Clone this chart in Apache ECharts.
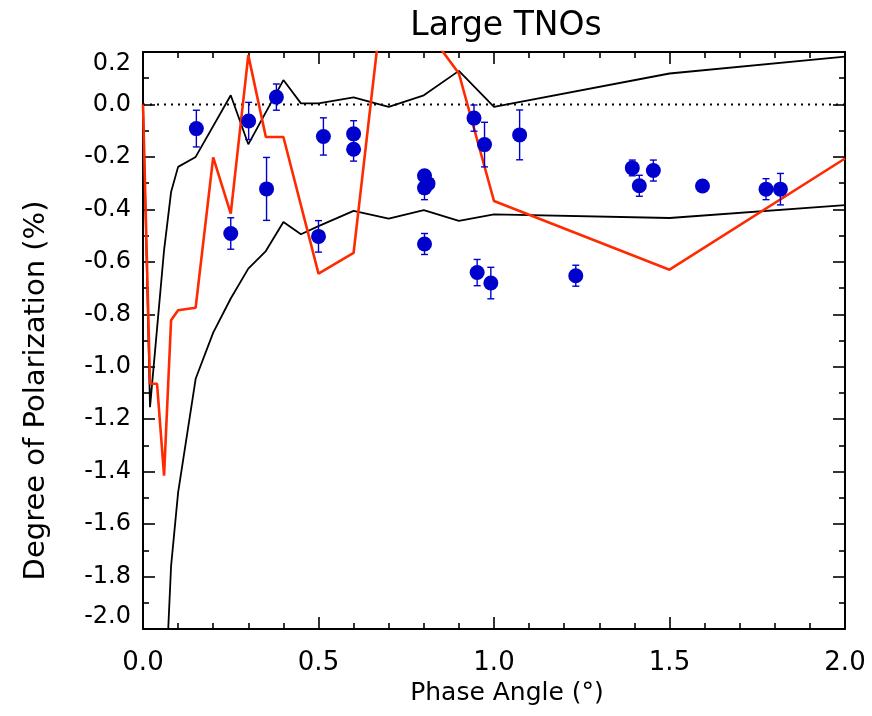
<!DOCTYPE html>
<html>
<head>
<meta charset="utf-8">
<script src="https://cdn.jsdelivr.net/npm/echarts@6/dist/echarts.min.js"></script>
<style>
html,body{margin:0;padding:0;background:#fff;}
#chart{width:872px;height:716px;}
</style>
</head>
<body>
<div id="chart"></div>
<script>
// ---- Data ----
const pointX   = [0.152, 0.250, 0.301, 0.352, 0.380, 0.500, 0.514, 0.600, 0.600, 0.802, 0.812, 0.802, 0.802, 0.943, 0.973, 1.073, 0.952, 0.991, 1.233, 1.394, 1.414, 1.454, 1.594, 1.775, 1.816];
const pointY   = [-0.092, -0.492, -0.063, -0.322, 0.028, -0.503, -0.122, -0.112, -0.171, -0.272, -0.302, -0.318, -0.532, -0.052, -0.153, -0.116, -0.641, -0.681, -0.653, -0.242, -0.310, -0.252, -0.311, -0.323, -0.323];
const pointErr = [0.070, 0.060, 0.071, 0.120, 0.050, 0.060, 0.071, 0.050, 0.045, 0.020, 0.020, 0.045, 0.040, 0.050, 0.085, 0.095, 0.050, 0.060, 0.040, 0.030, 0.040, 0.040, 0.000, 0.040, 0.060];

const upperX = [0.00, 0.02, 0.06, 0.08, 0.10, 0.15, 0.25, 0.30, 0.40, 0.45, 0.50, 0.60, 0.70, 0.80, 0.90, 1.00, 1.50, 2.00];
const upperY = [0.00, -1.154, -0.556, -0.334, -0.238, -0.200, 0.035, -0.152, 0.093, 0.004, 0.004, 0.027, -0.009, 0.035, 0.128, -0.009, 0.118, 0.182];

const lowerX = [0.06, 0.08, 0.10, 0.15, 0.20, 0.25, 0.30, 0.35, 0.40, 0.45, 0.50, 0.60, 0.70, 0.80, 0.90, 1.00, 1.50, 2.00];
const lowerY = [-2.35, -1.76, -1.48, -1.046, -0.87, -0.74, -0.626, -0.559, -0.448, -0.495, -0.464, -0.406, -0.435, -0.403, -0.444, -0.419, -0.433, -0.384];

const modelX = [0.00, 0.02, 0.04, 0.06, 0.08, 0.10, 0.15, 0.20, 0.25, 0.30, 0.35, 0.40, 0.50, 0.60, 0.70, 0.80, 0.90, 1.00, 1.50, 2.00];
const modelY = [0.00, -1.065, -1.065, -1.415, -0.823, -0.785, -0.775, -0.202, -0.416, 0.188, -0.124, -0.124, -0.645, -0.566, 0.60, 0.30, 0.118, -0.368, -0.630, -0.206];

const xTicks = [0.0, 0.5, 1.0, 1.5, 2.0];
const yTicks = [-2.0, -1.8, -1.6, -1.4, -1.2, -1.0, -0.8, -0.6, -0.4, -0.2, 0.0, 0.2];

// ---- Styling ----
const BLUE = '#0000CC';
const RED = '#FF2A00';
const FONT = 'DejaVu Sans';

const zip = (xs, ys) => xs.map((x, i) => [x, ys[i]]);
const fmt = v => (Math.abs(v) < 1e-9 ? 0 : v).toFixed(1);

const errData = pointX.map((x, i) => [x, pointY[i] - pointErr[i], pointY[i] + pointErr[i]]).filter((d, i) => pointErr[i] > 0);

const axisCommon = {
  axisLine: { show: true, onZero: false, lineStyle: { color: '#000', width: 2 } },
  axisTick: { show: true, inside: true, length: 12, lineStyle: { color: '#000', width: 1.6 } },
  minorTick: { show: true, length: 6, lineStyle: { color: '#000', width: 1.6 } },
  splitLine: { show: false },
  minorSplitLine: { show: false }
};

const chart = echarts.init(document.getElementById('chart'), null, { renderer: 'canvas' });

chart.setOption({
  animation: false,
  backgroundColor: '#fff',
  title: {
    text: 'Large TNOs',
    left: 501, top: 5,
    textAlign: 'center',
    textStyle: { fontFamily: FONT, fontSize: 33, fontWeight: 'normal', color: '#000' }
  },
  grid: { left: 143, right: 27, top: 52, bottom: 87, containLabel: false },
  xAxis: [
    Object.assign({
      type: 'value', min: xTicks[0], max: xTicks[xTicks.length - 1], interval: 0.5,
      position: 'bottom',
      name: 'Phase Angle (°)', nameLocation: 'middle', nameGap: 50,
      nameTextStyle: { fontFamily: FONT, fontSize: 25, color: '#000', padding: [0, 0, 0, 26] },
      axisLabel: { show: true, margin: 21, fontFamily: FONT, fontSize: 26, color: '#000', formatter: fmt }
    }, axisCommon, { minorTick: Object.assign({}, axisCommon.minorTick, { splitNumber: 5 }) }),
    Object.assign({
      type: 'value', min: xTicks[0], max: xTicks[xTicks.length - 1], interval: 0.5,
      position: 'top', axisLabel: { show: false }
    }, axisCommon, { minorTick: Object.assign({}, axisCommon.minorTick, { splitNumber: 5 }) })
  ],
  yAxis: [
    Object.assign({
      type: 'value', min: yTicks[0], max: yTicks[yTicks.length - 1], interval: 0.2,
      position: 'left',
      name: 'Degree of Polarization (%)', nameLocation: 'middle', nameGap: 92,
      nameTextStyle: { fontFamily: FONT, fontSize: 29, color: '#000', padding: [0, 100, 0, 0] },
      axisLabel: {
        show: true, margin: 12, fontFamily: FONT, fontSize: 24, color: '#000', formatter: fmt,
        verticalAlignMinLabel: 'bottom', verticalAlignMaxLabel: 'top'
      }
    }, axisCommon, { minorTick: Object.assign({}, axisCommon.minorTick, { splitNumber: 2 }) }),
    Object.assign({
      type: 'value', min: yTicks[0], max: yTicks[yTicks.length - 1], interval: 0.2,
      position: 'right', axisLabel: { show: false }
    }, axisCommon, { minorTick: Object.assign({}, axisCommon.minorTick, { splitNumber: 2 }) })
  ],
  series: [
    {
      name: 'zero', type: 'line', data: [[0, 0], [2, 0]], symbol: 'none', silent: true,
      lineStyle: { color: '#000', width: 2, type: [2, 5] }, z: 1
    },
    {
      name: 'upper', type: 'line', data: zip(upperX, upperY), symbol: 'none', clip: true,
      lineStyle: { color: '#000', width: 1.8 }, z: 2
    },
    {
      name: 'lower', type: 'line', data: zip(lowerX, lowerY), symbol: 'none', clip: true,
      lineStyle: { color: '#000', width: 1.8 }, z: 2
    },
    {
      name: 'model', type: 'line', data: zip(modelX, modelY), symbol: 'none', clip: true,
      lineStyle: { color: RED, width: 2.6 }, z: 3
    },
    {
      name: 'errors', type: 'custom', data: errData, clip: true, z: 4,
      renderItem: function (params, api) {
        const x = api.value(0);
        const p1 = api.coord([x, api.value(1)]);
        const p2 = api.coord([x, api.value(2)]);
        const w = 3.5;
        const st = { stroke: BLUE, lineWidth: 1.4 };
        return {
          type: 'group',
          children: [
            { type: 'line', shape: { x1: p1[0], y1: p1[1], x2: p2[0], y2: p2[1] }, style: st },
            { type: 'line', shape: { x1: p1[0] - w, y1: p1[1], x2: p1[0] + w, y2: p1[1] }, style: st },
            { type: 'line', shape: { x1: p2[0] - w, y1: p2[1], x2: p2[0] + w, y2: p2[1] }, style: st }
          ]
        };
      }
    },
    {
      name: 'points', type: 'scatter', data: zip(pointX, pointY), symbol: 'circle', symbolSize: 15,
      itemStyle: { color: BLUE, opacity: 1 }, z: 5
    }
  ]
});
</script>
</body>
</html>
